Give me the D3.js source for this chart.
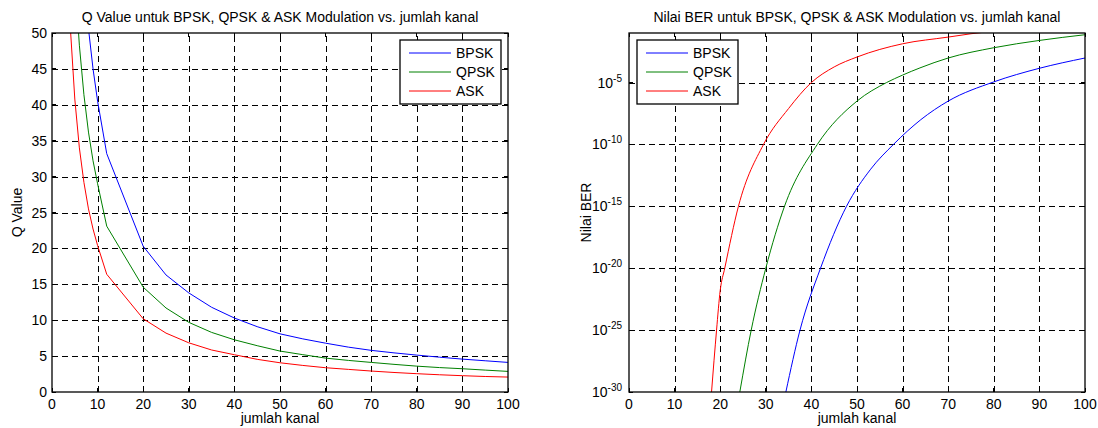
<!DOCTYPE html>
<html>
<head>
<meta charset="utf-8">
<script src="https://cdn.jsdelivr.net/npm/d3@7"></script>
<style>
  body { margin: 0; background: #fff; }
  svg { display: block; font-family: "Liberation Sans", Arial, sans-serif; }
</style>
</head>
<body>
<svg id="chart" width="1098" height="428"></svg>
<script>
// jumlah kanal (x) for the Q value plot
const kanal = [4, 5, 6, 7, 8, 9, 10, 12, 20, 25, 30, 35, 40, 45, 50, 55, 60, 65, 70, 75, 80, 85, 90, 95, 100];
const qBPSK = [101, 81, 67.5, 58, 50.6, 45, 40.5, 33.2, 20.3, 16.3, 13.8, 11.8, 10.3, 9.1, 8.1, 7.4, 6.8, 6.25, 5.8, 5.45, 5.14, 4.85, 4.58, 4.35, 4.12];
const qQPSK = [72, 58, 48.3, 41.4, 36.2, 32.2, 29, 23.1, 14.6, 11.7, 9.7, 8.3, 7.27, 6.45, 5.7, 5.2, 4.72, 4.4, 4.12, 3.85, 3.6, 3.4, 3.24, 3.05, 2.87];
const qASK = [51, 40.8, 34, 29.2, 25.5, 22.7, 20.4, 16.4, 10.2, 8.2, 6.85, 5.85, 5.19, 4.55, 4.07, 3.7, 3.38, 3.15, 2.92, 2.72, 2.55, 2.4, 2.27, 2.16, 2.08];

// BER plot: x and log10(BER) per series
const berKanalBPSK = [34.4, 37.5, 42, 47.7, 53, 58, 64, 70, 80, 90, 100];
const berExpBPSK = [-30, -25, -20, -15, -12, -10, -8.0, -6.5, -4.95, -3.85, -3.02];
const berKanalQPSK = [24.3, 26.8, 30, 34.1, 41.3, 50, 56.5, 60, 63.8, 70, 80, 90, 100];
const berExpQPSK = [-30, -25, -20, -15, -10, -6.5, -5, -4.4, -3.82, -3.02, -2.19, -1.6, -1.14];
const berKanalASK = [18.1, 19.2, 20.0, 21.0, 24.0, 29.5, 35, 40, 45, 50, 60, 70, 75, 80, 90, 100];
const berExpASK = [-30, -25, -21.8, -20, -15, -10, -7.1, -5, -3.74, -2.94, -1.87, -1.33, -1.06, -0.85, -0.6, -0.45];

const seriesNames = ["BPSK", "QPSK", "ASK"];
const seriesColors = ["#0000ff", "#008000", "#ff0000"];
const xTicks = [0, 10, 20, 30, 40, 50, 60, 70, 80, 90, 100];
const qTicks = [0, 5, 10, 15, 20, 25, 30, 35, 40, 45, 50];
const berTickExps = [-30, -25, -20, -15, -10, -5];

const svg = d3.select("#chart");

function frame(p, title, yLabel) {
    const g = svg.append("g").attr("id", p.id).attr("font-size", p.fs);
    g.append("clipPath").attr("id", p.id + "-clip")
        .append("rect").attr("x", p.x0).attr("y", p.y0).attr("width", p.x1 - p.x0).attr("height", p.y1 - p.y0);
    g.append("text")
        .attr("x", (p.x0 + p.x1) / 2).attr("y", 22)
        .attr("text-anchor", "middle")
        .text(title);
    g.append("text")
        .attr("x", (p.x0 + p.x1) / 2).attr("y", 423)
        .attr("text-anchor", "middle")
        .text("jumlah kanal");
    g.append("text")
        .attr("transform", `translate(${p.ylx},${(p.y0 + p.y1) / 2}) rotate(-90)`)
        .attr("text-anchor", "middle")
        .text(yLabel);
    return g;
}

function grid(g, p, x, y, yVals) {
    const gg = g.append("g").attr("stroke", "#000").attr("stroke-width", 1)
        .attr("stroke-dasharray", "6,4").attr("shape-rendering", "crispEdges");
    gg.selectAll(".vg").data(xTicks.slice(1, -1)).enter().append("line")
        .attr("x1", d => Math.round(x(d)) + 0.5).attr("x2", d => Math.round(x(d)) + 0.5)
        .attr("y1", p.y1).attr("y2", p.y0);
    gg.selectAll(".hg").data(yVals).enter().append("line")
        .attr("x1", p.x0).attr("x2", p.x1)
        .attr("y1", d => Math.round(y(d)) + 0.5).attr("y2", d => Math.round(y(d)) + 0.5);
}

function box(g, p) {
    g.append("rect").attr("x", p.x0).attr("y", p.y0).attr("width", p.x1 - p.x0).attr("height", p.y1 - p.y0)
        .attr("fill", "none").attr("stroke", "#000").attr("stroke-width", 1.3);
}

function ticks(g, p, x, y, yVals) {
    g.selectAll(".xt").data(xTicks).enter().append("text")
        .attr("x", d => x(d)).attr("y", p.y1 + 17)
        .attr("text-anchor", "middle")
        .text(d => d);
    const t = g.append("g").attr("stroke", "#000").attr("shape-rendering", "crispEdges");
    t.selectAll(".xb").data(xTicks).enter().append("line")
        .attr("x1", d => x(d)).attr("x2", d => x(d)).attr("y1", p.y1).attr("y2", p.y1 - 4);
    t.selectAll(".xtp").data(xTicks).enter().append("line")
        .attr("x1", d => x(d)).attr("x2", d => x(d)).attr("y1", p.y0).attr("y2", p.y0 + 4);
    t.selectAll(".yl").data(yVals).enter().append("line")
        .attr("x1", p.x0).attr("x2", p.x0 + 4).attr("y1", d => y(d)).attr("y2", d => y(d));
    t.selectAll(".yr").data(yVals).enter().append("line")
        .attr("x1", p.x1).attr("x2", p.x1 - 4).attr("y1", d => y(d)).attr("y2", d => y(d));
}

function legend(g, L) {
    const lg = g.append("g").attr("transform", `translate(${L.x},${L.y})`);
    lg.append("rect").attr("width", L.w).attr("height", L.h)
        .attr("fill", "#fff").attr("stroke", "#000").attr("stroke-width", 1.3);
    seriesNames.forEach((name, i) => {
        const yy = L.row0 + i * L.step;
        lg.append("line").attr("x1", L.lx0).attr("x2", L.lx1).attr("y1", yy).attr("y2", yy)
            .attr("stroke", seriesColors[i]).attr("stroke-width", 1);
        lg.append("text").attr("x", L.tx).attr("y", yy + 5).text(name);
    });
}

// ---- Left: Q value ----
{
    const p = { id: "qplot", x0: 52, x1: 508, y0: 33, y1: 392, fs: 14, ylx: 22 };
    const x = d3.scaleLinear().domain([0, 100]).range([p.x0, p.x1]);
    const y = d3.scaleLinear().domain([0, 50]).range([p.y1, p.y0]);
    const g = frame(p, "Q Value untuk BPSK, QPSK & ASK Modulation vs. jumlah kanal", "Q Value");
    grid(g, p, x, y, qTicks.slice(1, -1));

    const line = d3.line().x((d, i) => x(kanal[i])).y(d => y(d));
    const lines = g.append("g").attr("clip-path", "url(#qplot-clip)");
    [qBPSK, qQPSK, qASK].forEach((vals, i) => {
        lines.append("path").attr("d", line(vals))
            .attr("fill", "none").attr("stroke", seriesColors[i]).attr("stroke-width", 1);
    });

    box(g, p);
    ticks(g, p, x, y, qTicks);
    g.selectAll(".yt").data(qTicks).enter().append("text")
        .attr("x", p.x0 - 5).attr("y", d => y(d) + 5)
        .attr("text-anchor", "end")
        .text(d => d);
    legend(g, { x: 400, y: 40, w: 101, h: 64, lx0: 9, lx1: 51, tx: 56, row0: 13, step: 19 });
}

// ---- Right: BER ----
{
    const p = { id: "berplot", x0: 629, x1: 1085, y0: 33, y1: 392, fs: 14, ylx: 591 };
    const x = d3.scaleLinear().domain([0, 100]).range([p.x0, p.x1]);
    const y = d3.scaleLog().domain([1e-30, 1e-1]).range([p.y1, p.y0]);
    const g = frame(p, "Nilai BER untuk BPSK, QPSK & ASK Modulation vs. jumlah kanal", "Nilai BER");
    const tickVals = berTickExps.map(e => Math.pow(10, e));
    grid(g, p, x, y, tickVals.slice(1));

    const lines = g.append("g").attr("clip-path", "url(#berplot-clip)");
    [[berKanalBPSK, berExpBPSK], [berKanalQPSK, berExpQPSK], [berKanalASK, berExpASK]].forEach(([xs, es], i) => {
        const line = d3.line().curve(d3.curveMonotoneX)
            .x((d, j) => x(xs[j])).y(d => y(Math.pow(10, d)));
        lines.append("path").attr("d", line(es))
            .attr("fill", "none").attr("stroke", seriesColors[i]).attr("stroke-width", 1);
    });

    box(g, p);
    ticks(g, p, x, y, tickVals);
    berTickExps.forEach(e => {
        const ty = y(Math.pow(10, e));
        const txt = g.append("text").attr("x", p.x0 - 7).attr("y", ty + 5)
            .attr("text-anchor", "end");
        txt.append("tspan").text("10");
        txt.append("tspan").attr("dy", -6).attr("font-size", 10).text(e);
    });
    legend(g, { x: 637, y: 40, w: 101, h: 64, lx0: 9, lx1: 51, tx: 56, row0: 13, step: 19 });
}
</script>
</body>
</html>
